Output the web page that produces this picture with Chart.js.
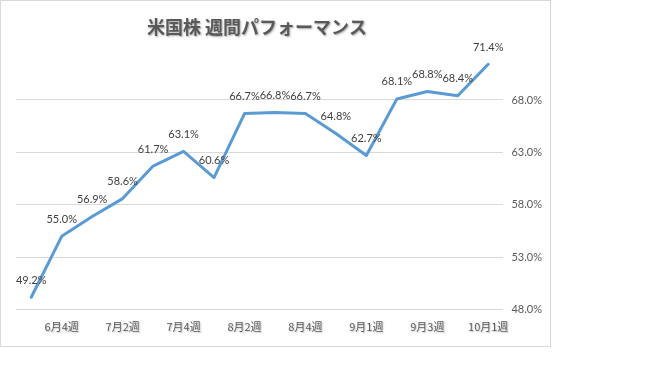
<!DOCTYPE html>
<html>
<head>
<meta charset="utf-8">
<script src="https://cdn.jsdelivr.net/npm/chart.js@4"></script>
<style>
  html, body { margin: 0; padding: 0; background: #fff; width: 666px; height: 384px; overflow: hidden; }
  #frame { position: absolute; left: 0; top: 0; width: 549px; height: 345px; border: 1px solid #d9d9d9; }
</style>
</head>
<body>
<div id="frame"><canvas id="chart" width="549" height="345"></canvas></div>
<script>
const chartTitle = '米国株 週間パフォーマンス';
const weeks = ['6月3週', '6月4週', '7月1週', '7月2週', '7月3週', '7月4週', '8月1週', '8月2週',
               '8月3週', '8月4週', '8月5週', '9月1週', '9月2週', '9月3週', '9月4週', '10月1週'];
const performance = [49.2, 55.0, 56.9, 58.6, 61.7, 63.1, 60.6, 66.7, 66.8, 66.7, 64.8, 62.7, 68.1, 68.8, 68.4, 71.4];
const yTicks = [48, 53, 58, 63, 68];

const pct = (v) => v.toFixed(1) + '%';

const setShadow = (ctx) => {
    ctx.shadowColor = 'rgba(0,0,0,0.35)';
    ctx.shadowOffsetX = 1;
    ctx.shadowOffsetY = 1;
    ctx.shadowBlur = 2;
};

// title with a soft shadow, a bit left of center like the original
const titlePlugin = {
    id: 'titleText',
    afterDraw(chart) {
        const ctx = chart.ctx;
        ctx.save();
        ctx.font = 'bold 18px "Noto Sans CJK JP", sans-serif';
        ctx.fillStyle = '#595959';
        ctx.textAlign = 'center';
        ctx.textBaseline = 'middle';
        setShadow(ctx);
        ctx.fillText(chartTitle, 256, 26);
        ctx.restore();
    }
};

// the category labels also carry a light shadow
const shadowedX = {
    id: 'shadowedX',
    beforeDraw(chart) {
        const x = chart.scales.x;
        if (x && !x._shadowed) {
            const orig = x.drawLabels.bind(x);
            x.drawLabels = function (area) {
                const ctx = this.ctx;
                ctx.save();
                ctx.shadowColor = 'rgba(0,0,0,0.25)';
                ctx.shadowOffsetX = 1;
                ctx.shadowOffsetY = 1;
                ctx.shadowBlur = 1.5;
                orig(area);
                ctx.restore();
            };
            x._shadowed = true;
        }
    }
};

// value labels above each point
const valueLabels = {
    id: 'valueLabels',
    afterDatasetsDraw(chart) {
        const ctx = chart.ctx;
        const meta = chart.getDatasetMeta(0);
        ctx.save();
        ctx.font = '11px Lato, sans-serif';
        ctx.fillStyle = '#404040';
        ctx.textAlign = 'center';
        ctx.textBaseline = 'middle';
        meta.data.forEach((pt, i) => {
            ctx.fillText(pct(performance[i]), pt.x, pt.y - 17);
        });
        ctx.restore();
    }
};

new Chart(document.getElementById('chart'), {
    type: 'line',
    data: {
        labels: weeks,
        datasets: [{
            data: performance,
            borderColor: '#5b9bd5',
            borderWidth: 3,
            borderJoinStyle: 'round',
            borderCapStyle: 'round',
            pointRadius: 0,
            tension: 0,
            fill: false
        }]
    },
    options: {
        responsive: false,
        animation: false,
        layout: { padding: { left: 15, right: 0, top: 57, bottom: 3 } },
        plugins: {
            legend: { display: false },
            title: { display: false },
            tooltip: { enabled: false }
        },
        scales: {
            x: {
                offset: true,
                grid: { display: false, drawTicks: false },
                border: { display: false },
                ticks: {
                    autoSkip: false,
                    maxRotation: 0,
                    padding: 10,
                    color: '#595959',
                    font: { family: '"Noto Sans CJK JP", sans-serif', size: 11 },
                    callback: (v, i) => (i % 2 === 1 ? weeks[i] : '')
                }
            },
            y: {
                position: 'right',
                min: 48,
                max: 72,
                afterBuildTicks: (scale) => {
                    scale.ticks = yTicks.map(v => ({ value: v }));
                },
                grid: { color: '#d9d9d9', drawTicks: false },
                border: { display: false },
                ticks: {
                    padding: 8,
                    color: '#595959',
                    font: { family: 'Lato, sans-serif', size: 11 },
                    callback: (v) => pct(v)
                }
            }
        }
    },
    plugins: [titlePlugin, shadowedX, valueLabels]
});
</script>
</body>
</html>
